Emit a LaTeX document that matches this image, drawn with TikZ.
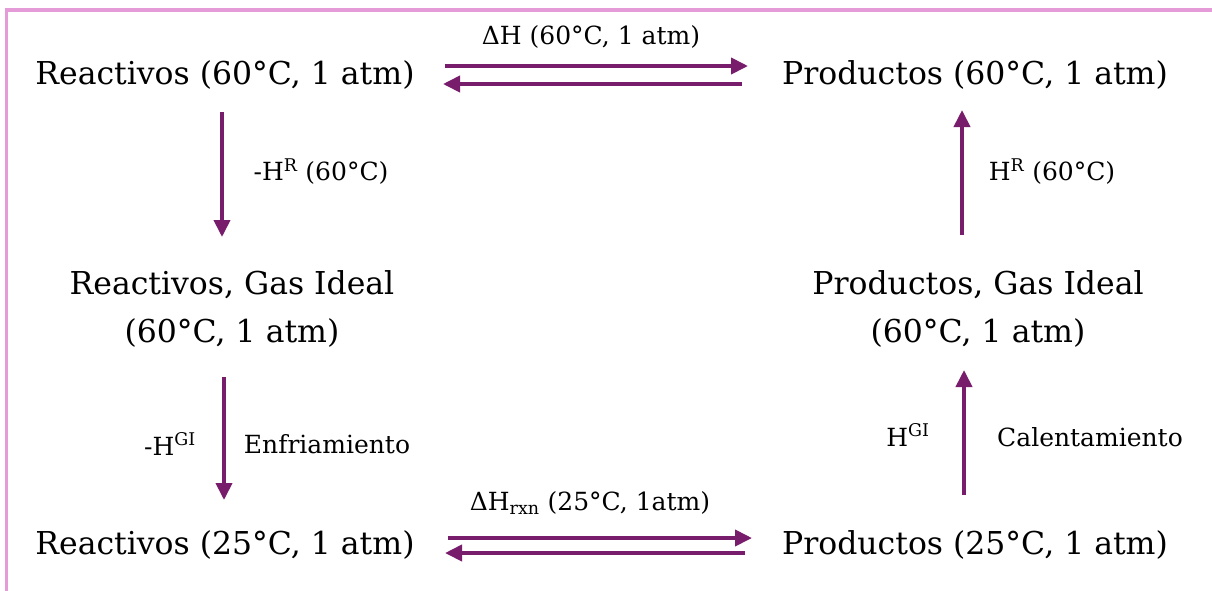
\documentclass[tikz,border=0pt]{standalone}
\usepackage{fontspec}
\setmainfont{DejaVu Serif}
\usetikzlibrary{arrows.meta,calc}
\definecolor{arrowc}{RGB}{120,28,108}
\definecolor{framec}{RGB}{228,155,216}
\begin{document}
\begin{tikzpicture}[x=1pt,y=-1pt,
  state/.style={inner sep=0pt,font=\fontsize{31.5}{48}\selectfont,align=center},
  lbl/.style={inner sep=0pt,font=\fontsize{25}{30}\selectfont},
  arr/.style={line width=3.8pt,draw=arrowc,-{Triangle[length=17pt,width=16pt]}},
  frame/.style={line width=3.5pt,draw=framec}]
\useasboundingbox (0,0) rectangle (1212,590);
\draw[frame] (6.5,592) -- (6.5,10) -- (1214,10);
% states
\node[state] (r60) at (225,75) {Reactivos (60°C, 1 atm)};
\node[state] (p60) at (975,75) {Productos (60°C, 1 atm)};
\node[state] (rgi) at (232,309) {Reactivos, Gas Ideal\\(60°C, 1 atm)};
\node[state] (pgi) at (978,309) {Productos, Gas Ideal\\(60°C, 1 atm)};
\node[state] (r25) at (225,545) {Reactivos (25°C, 1 atm)};
\node[state] (p25) at (975,545) {Productos (25°C, 1 atm)};
% labels
\node[lbl] (l1) at (591,37) {ΔH (60°C, 1 atm)};
\node[lbl] (l2) at (321,172) {-H\textsuperscript{R} (60°C)};
\node[lbl] (l3) at (170,444) {-H\textsuperscript{GI}};
\node[lbl] (l4) at (327,444) {Enfriamiento};
\node[lbl] (l5) at (1052,172) {H\textsuperscript{R} (60°C)};
\node[lbl] (l6) at (908,435) {H\textsuperscript{GI}};
\node[lbl] (l7) at (1090,437) {Calentamiento};
\node[lbl] (l8) at (590,503) {ΔH\textsubscript{rxn} (25°C, 1atm)};
% horizontal double arrows
\draw[arr] ($(r60.center)+(220,-9)$) -- ($(p60.center)+(-227,-9)$);
\draw[arr] ($(p60.center)+(-233,9)$) -- ($(r60.center)+(218,9)$);
\draw[arr] ($(r25.center)+(223,-7)$) -- ($(p25.center)+(-223,-7)$);
\draw[arr] ($(p25.center)+(-230,8)$) -- ($(r25.center)+(220,8)$);
% vertical arrows
\draw[arr] ($(r60.center)+(-3,37)$) -- ($(rgi.center)+(-10,-72)$);
\draw[arr] ($(rgi.center)+(-8,68)$) -- ($(r25.center)+(-1,-45)$);
\draw[arr] ($(pgi.center)+(-16,-74)$) -- ($(p60.center)+(-13,35)$);
\draw[arr] ($(p25.center)+(-11,-50)$) -- ($(pgi.center)+(-14,61)$);
\end{tikzpicture}
\end{document}
